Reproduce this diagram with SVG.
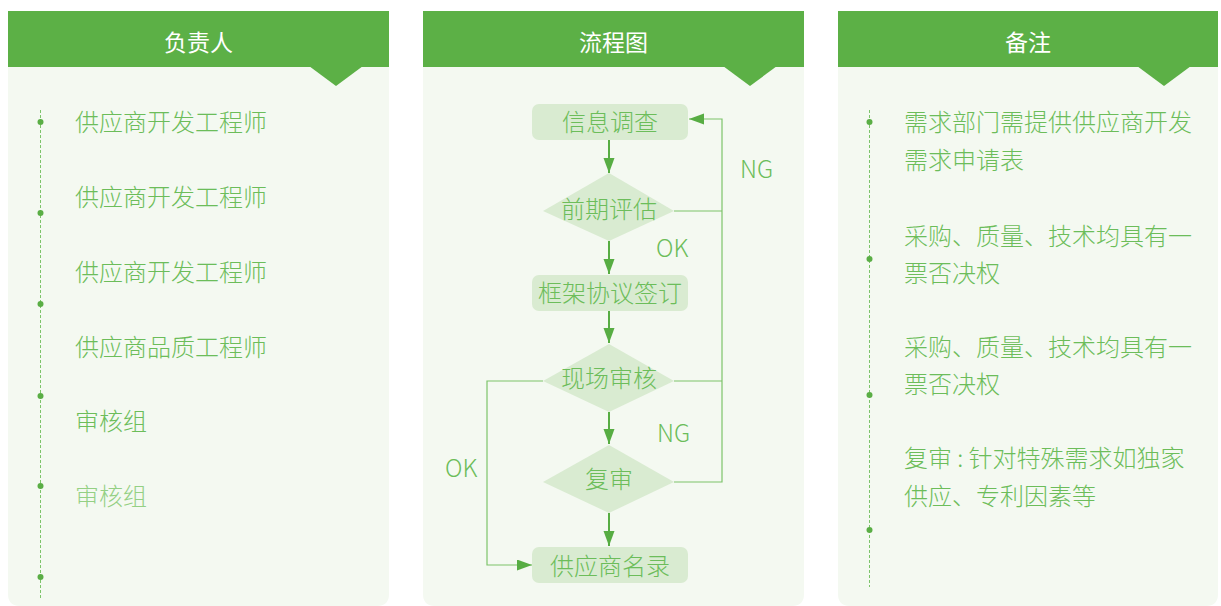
<svg xmlns="http://www.w3.org/2000/svg" width="1221" height="606" viewBox="0 0 1221 606">
<defs>
<style>
.panel{fill:#f4f9f1}
.head{fill:#5cb046}
.ht{font-family:"Noto Sans CJK SC","Noto Sans",sans-serif;font-size:23px;fill:#ffffff;text-anchor:middle}
.t{font-family:"Noto Sans CJK SC","Noto Sans",sans-serif;font-size:24px;font-weight:300;fill:#6cbd5a}
.c{text-anchor:middle}
.faint{fill:#94d084}
.dash{stroke:#7cc46a;stroke-width:1;stroke-dasharray:3 2;fill:none}
.dot{fill:#5aae45}
.box{fill:#d9ebd1}
.stem{stroke:#57ad43;stroke-width:2;fill:none}
.loop{stroke:#7cc46a;stroke-width:1.2;fill:none}
</style>
<marker id="ah" markerUnits="userSpaceOnUse" markerWidth="16" markerHeight="12" refX="15" refY="5.5" orient="auto">
<path d="M0,0 L15,5.5 L0,11 Z" fill="#57ad43"/>
</marker>
</defs>

<g id="panel-owner">
<path class="panel" d="M8,11 H389 V594 Q389,606 377,606 H20 Q8,606 8,594 Z"/>
<rect class="head" x="8" y="11" width="381" height="56"/>
<polygon class="head" points="309,66 336,86 363,66"/>
<text class="ht" x="198.5" y="51">负责人</text>
<line class="dash" x1="40.5" y1="110" x2="40.5" y2="598"/>
<circle class="dot" cx="40.5" cy="122" r="3"/>
<circle class="dot" cx="40.5" cy="213" r="3"/>
<circle class="dot" cx="40.5" cy="304" r="3"/>
<circle class="dot" cx="40.5" cy="396" r="3"/>
<circle class="dot" cx="40.5" cy="486" r="3"/>
<circle class="dot" cx="40.5" cy="577" r="3"/>
<text class="t" x="75" y="131">供应商开发工程师</text>
<text class="t" x="75" y="206">供应商开发工程师</text>
<text class="t" x="75" y="281">供应商开发工程师</text>
<text class="t" x="75" y="356">供应商品质工程师</text>
<text class="t" x="75" y="430">审核组</text>
<text class="t faint" x="75" y="505">审核组</text>
</g>

<g id="panel-flow">
<path class="panel" d="M423,11 H804 V594 Q804,606 792,606 H435 Q423,606 423,594 Z"/>
<rect class="head" x="423" y="11" width="381" height="56"/>
<polygon class="head" points="723,66 750,86 777,66"/>
<text class="ht" x="613.5" y="51">流程图</text>
</g>

<g id="panel-notes">
<path class="panel" d="M838,11 H1218 V594 Q1218,606 1206,606 H850 Q838,606 838,594 Z"/>
<rect class="head" x="838" y="11" width="380" height="56"/>
<polygon class="head" points="1137,66 1164,86 1191,66"/>
<text class="ht" x="1028" y="51">备注</text>
<line class="dash" x1="869.5" y1="110" x2="869.5" y2="587"/>
<circle class="dot" cx="869.5" cy="122" r="3"/>
<circle class="dot" cx="869.5" cy="259" r="3"/>
<circle class="dot" cx="869.5" cy="395" r="3"/>
<circle class="dot" cx="869.5" cy="530" r="3"/>
<text class="t" x="904" y="131">需求部门需提供供应商开发</text>
<text class="t" x="904" y="169">需求申请表</text>
<text class="t" x="904" y="245">采购、质量、技术均具有一</text>
<text class="t" x="904" y="282">票否决权</text>
<text class="t" x="904" y="356">采购、质量、技术均具有一</text>
<text class="t" x="904" y="393">票否决权</text>
<text class="t" x="904" y="467">复审 : 针对特殊需求如独家</text>
<text class="t" x="904" y="505">供应、专利因素等</text>
</g>

<g id="connectors">
<line class="stem" x1="609" y1="140" x2="609" y2="173" marker-end="url(#ah)"/>
<line class="stem" x1="609" y1="241" x2="609" y2="274" marker-end="url(#ah)"/>
<line class="stem" x1="609" y1="311" x2="609" y2="343" marker-end="url(#ah)"/>
<line class="stem" x1="609" y1="412" x2="609" y2="444" marker-end="url(#ah)"/>
<line class="stem" x1="609" y1="513" x2="609" y2="546" marker-end="url(#ah)"/>
<line class="loop" x1="674" y1="211" x2="722" y2="211"/>
<line class="loop" x1="674" y1="381" x2="722" y2="381"/>
<path class="loop" d="M674,482 H722 V119 H689" marker-end="url(#ah)"/>
<path class="loop" d="M543,381 H487 V565 H532" marker-end="url(#ah)"/>
<text class="t" x="740" y="178">NG</text>
<text class="t" x="656" y="257">OK</text>
<text class="t" x="657" y="442">NG</text>
<text class="t" x="445" y="477">OK</text>
</g>

<g id="n-survey">
<rect class="box" x="532" y="104" width="156" height="36" rx="7"/>
<text class="t c" x="610" y="131">信息调查</text>
</g>
<g id="n-eval">
<polygon class="box" points="609,173 674,211 609,241 543,211"/>
<text class="t c" x="609" y="218">前期评估</text>
</g>
<g id="n-agreement">
<rect class="box" x="532" y="275" width="156" height="36" rx="7"/>
<text class="t c" x="610" y="302">框架协议签订</text>
</g>
<g id="n-audit">
<polygon class="box" points="609,344 674,381 609,412 543,381"/>
<text class="t c" x="609" y="387">现场审核</text>
</g>
<g id="n-review">
<polygon class="box" points="609,445 674,482 609,513 543,482"/>
<text class="t c" x="609" y="488">复审</text>
</g>
<g id="n-list">
<rect class="box" x="532" y="547" width="156" height="36" rx="7"/>
<text class="t c" x="610" y="575">供应商名录</text>
</g>
</svg>
